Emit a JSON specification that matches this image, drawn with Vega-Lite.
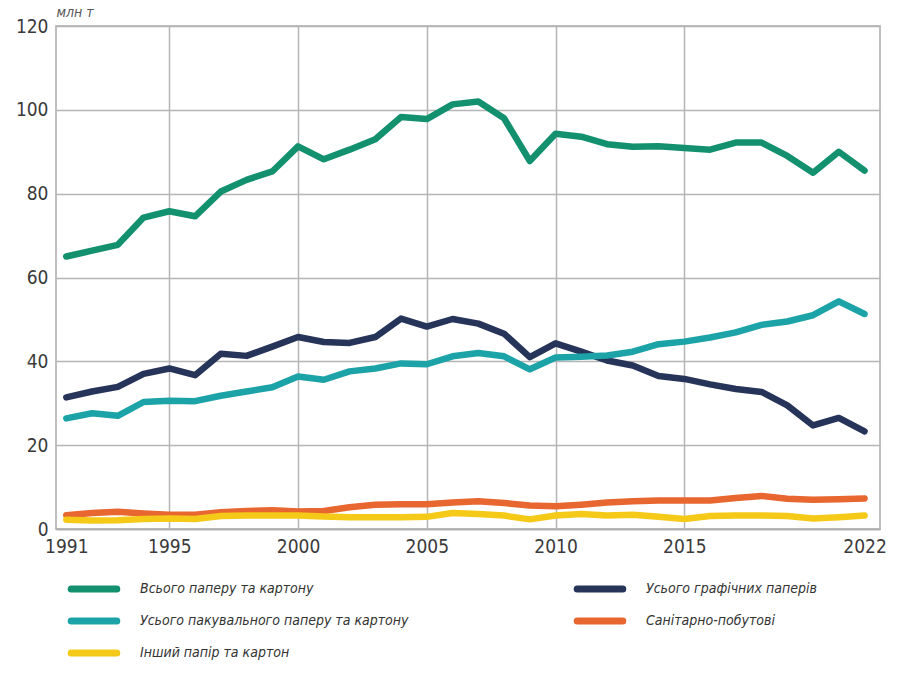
{
  "$schema": "https://vega.github.io/schema/vega-lite/v6.json",
  "width": 824,
  "height": 503,
  "autosize": {"type": "none"},
  "padding": {"left": 56, "top": 26, "right": 20, "bottom": 148},
  "config": {
    "font": "DejaVu Sans Condensed, Roboto, sans-serif",
    "view": {"stroke": "#ababab", "strokeWidth": 1.5}
  },
  "data": {
    "values": [
      {"year": 1991, "Всього паперу та картону": 65.0, "Усього графічних паперів": 31.4, "Усього пакувального паперу та картону": 26.4, "Санітарно-побутові": 3.3, "Інший папір та картон": 2.2},
      {"year": 1992, "Всього паперу та картону": 66.4, "Усього графічних паперів": 32.8, "Усього пакувального паперу та картону": 27.6, "Санітарно-побутові": 3.8, "Інший папір та картон": 2.0},
      {"year": 1993, "Всього паперу та картону": 67.8, "Усього графічних паперів": 33.9, "Усього пакувального паперу та картону": 27.0, "Санітарно-побутові": 4.1, "Інший папір та картон": 2.1},
      {"year": 1994, "Всього паперу та картону": 74.3, "Усього графічних паперів": 37.0, "Усього пакувального паперу та картону": 30.3, "Санітарно-побутові": 3.7, "Інший папір та картон": 2.4},
      {"year": 1995, "Всього паперу та картону": 75.8, "Усього графічних паперів": 38.3, "Усього пакувального паперу та картону": 30.6, "Санітарно-побутові": 3.4, "Інший папір та картон": 2.5},
      {"year": 1996, "Всього паперу та картону": 74.6, "Усього графічних паперів": 36.7, "Усього пакувального паперу та картону": 30.5, "Санітарно-побутові": 3.4, "Інший папір та картон": 2.4},
      {"year": 1997, "Всього паперу та картону": 80.5, "Усього графічних паперів": 41.8, "Усього пакувального паперу та картону": 31.8, "Санітарно-побутові": 4.0, "Інший папір та картон": 3.1},
      {"year": 1998, "Всього паперу та картону": 83.3, "Усього графічних паперів": 41.3, "Усього пакувального паперу та картону": 32.8, "Санітарно-побутові": 4.3, "Інший папір та картон": 3.2},
      {"year": 1999, "Всього паперу та картону": 85.3, "Усього графічних паперів": 43.5, "Усього пакувального паперу та картону": 33.8, "Санітарно-побутові": 4.5, "Інший папір та картон": 3.2},
      {"year": 2000, "Всього паперу та картону": 91.3, "Усього графічних паперів": 45.8, "Усього пакувального паперу та картону": 36.4, "Санітарно-побутові": 4.2, "Інший папір та картон": 3.2},
      {"year": 2001, "Всього паперу та картону": 88.2, "Усього графічних паперів": 44.6, "Усього пакувального паперу та картону": 35.6, "Санітарно-побутові": 4.3, "Інший папір та картон": 3.0},
      {"year": 2002, "Всього паперу та картону": 90.5, "Усього графічних паперів": 44.4, "Усього пакувального паперу та картону": 37.6, "Санітарно-побутові": 5.2, "Інший папір та картон": 2.8},
      {"year": 2003, "Всього паперу та картону": 93.0, "Усього графічних паперів": 45.8, "Усього пакувального паперу та картону": 38.3, "Санітарно-побутові": 5.8, "Інший папір та картон": 2.8},
      {"year": 2004, "Всього паперу та картону": 98.3, "Усього графічних паперів": 50.2, "Усього пакувального паперу та картону": 39.5, "Санітарно-побутові": 5.9, "Інший папір та картон": 2.8},
      {"year": 2005, "Всього паперу та картону": 97.8, "Усього графічних паперів": 48.3, "Усього пакувального паперу та картону": 39.3, "Санітарно-побутові": 5.9, "Інший папір та картон": 2.9},
      {"year": 2006, "Всього паперу та картону": 101.3, "Усього графічних паперів": 50.1, "Усього пакувального паперу та картону": 41.2, "Санітарно-побутові": 6.3, "Інший папір та картон": 3.8},
      {"year": 2007, "Всього паперу та картону": 102.0, "Усього графічних паперів": 49.0, "Усього пакувального паперу та картону": 42.0, "Санітарно-побутові": 6.6, "Інший папір та картон": 3.6},
      {"year": 2008, "Всього паперу та картону": 98.0, "Усього графічних паперів": 46.6, "Усього пакувального паперу та картону": 41.2, "Санітарно-побутові": 6.2, "Інший папір та картон": 3.2},
      {"year": 2009, "Всього паперу та картону": 87.8, "Усього графічних паперів": 41.0, "Усього пакувального паперу та картону": 38.1, "Санітарно-побутові": 5.6, "Інший папір та картон": 2.3},
      {"year": 2010, "Всього паперу та картону": 94.3, "Усього графічних паперів": 44.3, "Усього пакувального паперу та картону": 40.9, "Санітарно-побутові": 5.4, "Інший папір та картон": 3.2},
      {"year": 2011, "Всього паперу та картону": 93.6, "Усього графічних паперів": 42.3, "Усього пакувального паперу та картону": 41.1, "Санітарно-побутові": 5.8, "Інший папір та картон": 3.6},
      {"year": 2012, "Всього паперу та картону": 91.8, "Усього графічних паперів": 40.2, "Усього пакувального паперу та картону": 41.4, "Санітарно-побутові": 6.3, "Інший папір та картон": 3.2},
      {"year": 2013, "Всього паперу та картону": 91.2, "Усього графічних паперів": 39.0, "Усього пакувального паперу та картону": 42.3, "Санітарно-побутові": 6.6, "Інший папір та картон": 3.4},
      {"year": 2014, "Всього паперу та картону": 91.3, "Усього графічних паперів": 36.5, "Усього пакувального паперу та картону": 44.1, "Санітарно-побутові": 6.8, "Інший папір та картон": 2.9},
      {"year": 2015, "Всього паперу та картону": 90.9, "Усього графічних паперів": 35.8, "Усього пакувального паперу та картону": 44.7, "Санітарно-побутові": 6.8, "Інший папір та картон": 2.4},
      {"year": 2016, "Всього паперу та картону": 90.5, "Усього графічних паперів": 34.5, "Усього пакувального паперу та картону": 45.7, "Санітарно-побутові": 6.8, "Інший папір та картон": 3.1},
      {"year": 2017, "Всього паперу та картону": 92.2, "Усього графічних паперів": 33.4, "Усього пакувального паперу та картону": 46.9, "Санітарно-побутові": 7.4, "Інший папір та картон": 3.2},
      {"year": 2018, "Всього паперу та картону": 92.2, "Усього графічних паперів": 32.7, "Усього пакувального паперу та картону": 48.7, "Санітарно-побутові": 7.9, "Інший папір та картон": 3.2},
      {"year": 2019, "Всього паперу та картону": 89.0, "Усього графічних паперів": 29.5, "Усього пакувального паперу та картону": 49.5, "Санітарно-побутові": 7.2, "Інший папір та картон": 3.1},
      {"year": 2020, "Всього паперу та картону": 85.0, "Усього графічних паперів": 24.7, "Усього пакувального паперу та картону": 51.0, "Санітарно-побутові": 7.0, "Інший папір та картон": 2.5},
      {"year": 2021, "Всього паперу та картону": 90.0, "Усього графічних паперів": 26.5, "Усього пакувального паперу та картону": 54.3, "Санітарно-побутові": 7.1, "Інший папір та картон": 2.8},
      {"year": 2022, "Всього паперу та картону": 85.5, "Усього графічних паперів": 23.3, "Усього пакувального паперу та картону": 51.3, "Санітарно-побутові": 7.3, "Інший папір та картон": 3.2}
    ]
  },
  "transform": [
    {
      "fold": [
        "Всього паперу та картону",
        "Усього графічних паперів",
        "Усього пакувального паперу та картону",
        "Санітарно-побутові",
        "Інший папір та картон"
      ],
      "as": ["series", "value"]
    }
  ],
  "mark": {"type": "line", "strokeWidth": 6.5, "strokeCap": "round", "strokeJoin": "round"},
  "encoding": {
    "x": {
      "field": "year",
      "type": "quantitative",
      "scale": {"domain": [1990.6, 2022.6], "nice": false, "zero": false},
      "axis": {
        "values": [1991, 1995, 2000, 2005, 2010, 2015, 2022],
        "format": "d",
        "title": null,
        "ticks": false,
        "domainColor": "#ababab",
        "domainWidth": 1.5,
        "labelFontSize": 19,
        "labelColor": "#3a3a3a",
        "labelPadding": 8,
        "labelFlush": false,
        "gridColor": "#b5b5b5",
        "gridWidth": 1.5,
        "gridOpacity": {"condition": {"test": "datum.value == 1991 || datum.value == 2022", "value": 0}, "value": 1}
      }
    },
    "y": {
      "field": "value",
      "type": "quantitative",
      "scale": {"domain": [0, 120], "nice": false},
      "axis": {
        "values": [0, 20, 40, 60, 80, 100, 120],
        "title": "млн т",
        "titleAngle": 0,
        "titleX": 0,
        "titleY": -10,
        "titleAlign": "left",
        "titleBaseline": "alphabetic",
        "titleFontStyle": "italic",
        "titleFontWeight": "normal",
        "titleFontSize": 14,
        "titleColor": "#555555",
        "ticks": false,
        "domain": false,
        "labelFontSize": 19,
        "labelColor": "#3a3a3a",
        "labelPadding": 8,
        "gridColor": "#b5b5b5",
        "gridWidth": 1.5
      }
    },
    "color": {
      "field": "series",
      "type": "nominal",
      "scale": {
        "domain": [
          "Всього паперу та картону",
          "Усього пакувального паперу та картону",
          "Інший папір та картон",
          "Усього графічних паперів",
          "Санітарно-побутові"
        ],
        "range": ["#13916f", "#1ba3a8", "#f5c918", "#263459", "#e8662f"]
      },
      "legend": {
        "title": null,
        "orient": "none",
        "legendX": 23,
        "legendY": 548,
        "columns": 2,
        "padding": 0,
        "columnPadding": 154,
        "rowPadding": 3,
        "symbolType": "M-2,0L2,0",
        "symbolSize": 520,
        "symbolStrokeWidth": 7,
        "labelOffset": 31,
        "labelFontSize": 14,
        "labelFontStyle": "italic",
        "labelColor": "#333333",
        "labelLimit": 400,
        "encode": {"symbols": {"update": {"strokeCap": {"value": "round"}}}}
      }
    }
  }
}
